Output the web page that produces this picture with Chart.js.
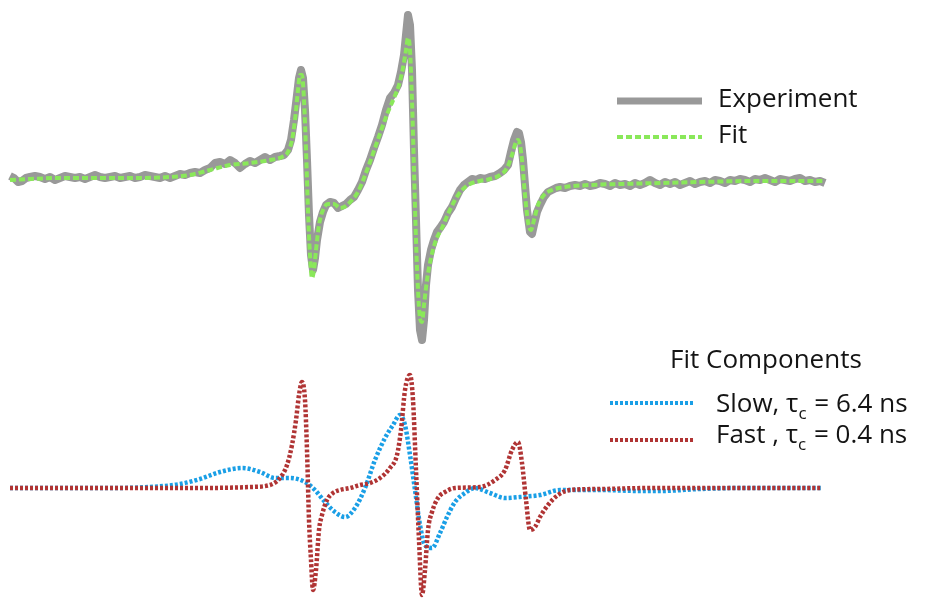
<!DOCTYPE html>
<html>
<head>
<meta charset="utf-8">
<script src="https://cdn.jsdelivr.net/npm/chart.js@4.4.1/dist/chart.umd.min.js"></script>
<style>
  body { margin: 0; background: #fff; }
  #spectrum { display: block; }
</style>
</head>
<body>
<canvas id="spectrum" width="926" height="601"></canvas>
<script>
// EPR spectrum, field in arbitrary units, signal relative to baseline
const expField = [10,14,18,22,26,30,35,40,45,50,55,60,65,70,75,80,85,90,95,100,105,110,115,120,125,130,135,140,145,150,155,160,165,170,175,180,185,190,195,200,205,210,215,220,225,230,235,240,245,250,255,260,265,270,275,280,284,288,291,294,297,299,301,303,305,307,309,311,313,315,317,320,323,326,330,334,338,342,346,350,354,358,362,366,370,374,378,382,386,390,394,398,401,404,406,408,410,412,414,416,418,420,422,424,426,428,431,434,437,440,444,448,452,456,460,464,468,472,476,480,485,490,495,500,504,508,511,514,517,519,521,523,525,527,530,532,534,537,540,544,548,552,556,560,565,570,575,580,585,590,595,600,605,610,615,620,625,630,635,640,645,650,655,660,665,670,675,680,685,690,695,700,705,710,715,720,725,730,735,740,745,750,755,760,765,770,775,780,785,790,795,800,805,810,815,820,825];
const expSignal = [4,2,-2,-1,2,3,4,3,1,3,0,2,4,3,2,3,1,3,5,3,2,3,4,2,3,4,2,3,5,4,3,2,4,2,4,6,5,7,8,7,10,12,17,18,16,20,17,12,16,19,17,20,23,20,23,24,25,30,40,60,85,102,110,102,70,20,-35,-75,-90,-78,-60,-42,-32,-25,-22,-23,-28,-26,-24,-20,-17,-10,-2,10,20,32,43,55,70,82,87,95,108,125,145,165,155,110,30,-40,-110,-150,-160,-140,-105,-85,-70,-60,-52,-48,-42,-33,-27,-18,-10,-5,-2,1,0,2,1,3,4,7,10,15,28,40,48,47,38,20,-5,-30,-52,-54,-45,-32,-25,-17,-12,-10,-8,-7,-8,-6,-5,-6,-4,-6,-5,-3,-4,-6,-3,-5,-4,-6,-3,-5,-3,0,-3,-5,-2,-4,-2,-5,-3,-1,-4,-2,-1,-3,0,-1,-3,0,-1,1,0,-2,1,0,2,0,-2,1,0,-1,1,2,-1,0,-2,-1,-3];

const fitField = [10,30,60,100,140,170,190,210,230,250,270,282,288,292,295,298,300,302,304,306,308,310,312,314,316,319,323,328,334,340,346,352,358,364,370,376,382,388,394,399,403,406,408,410,412,414,416,418,420,422,424,427,431,436,442,448,455,462,470,480,490,500,507,512,516,518,520,522,525,528,531,534,538,544,552,565,590,620,660,700,750,800,825];
const fitSignal = [0,1,2,2,2,3,5,10,15,17,20,23,28,40,60,90,105,105,80,30,-30,-75,-98,-90,-70,-45,-30,-24,-24,-28,-26,-20,-12,2,18,35,52,68,82,95,112,130,142,130,80,10,-60,-110,-138,-142,-125,-100,-78,-60,-48,-34,-20,-10,-4,-1,1,5,12,25,38,40,35,20,-15,-42,-50,-40,-25,-15,-10,-7,-5,-4,-3,-2,-1,-1,-1];

// fit components
const slowField = [10,100,150,180,200,220,243,260,275,290,305,315,325,335,345,355,365,375,385,393,400,405,410,415,420,425,432,440,447,455,465,475,490,505,520,540,560,600,640,660,700,740,822];
const slowSignal = [0,0,1,4,9,16,20,16,10,10,6,-2,-14,-24,-29,-20,0,28,50,63,73,63,33,-2,-37,-57,-60,-45,-29,-14,-5,0,-5,-10,-9,-7,-2,-2,-3,-3,-1,0,0];

const fastField = [10,100,200,250,270,280,287,292,296,299,302,305,307,309,311,313,316,319,322,327,333,340,350,360,370,380,390,397,401,405,410,413,416,419,422,425,428,432,438,445,455,480,495,505,512,518,522,526,530,535,540,548,558,570,600,650,822];
const fastSignal = [0,0,0,1,3,10,23,43,68,93,106,88,38,-32,-72,-102,-82,-42,-27,-12,-5,-2,0,3,5,10,20,33,58,98,113,88,18,-52,-107,-82,-42,-24,-10,-4,0,1,8,18,38,46,25,-12,-42,-39,-29,-17,-7,-2,-1,0,0];

const toPoints = (xs, ys) => xs.map((x, i) => ({ x: x, y: ys[i] }));

const legendFont = '26px "Open Sans", sans-serif';
const subFont = '17px "Open Sans", sans-serif';

// legend drawn by hand, the figure has no axes
const legendPlugin = {
    id: 'figureLegend',
    afterDatasetsDraw(chart) {
        const ctx = chart.ctx;
        ctx.save();
        ctx.lineCap = 'butt';

        const line = (x1, x2, y, color, width, dash) => {
            ctx.beginPath();
            ctx.strokeStyle = color;
            ctx.lineWidth = width;
            ctx.setLineDash(dash);
            ctx.moveTo(x1, y);
            ctx.lineTo(x2, y);
            ctx.stroke();
        };
        line(617, 702, 101, '#999999', 7, []);
        line(617, 702, 137, '#8ae85a', 4, [6, 3]);
        line(610, 695, 403, '#1a9fe6', 4, [3, 2]);
        line(610, 695, 440, '#b03434', 4, [3, 2]);
        ctx.setLineDash([]);

        ctx.fillStyle = '#141414';
        ctx.textBaseline = 'alphabetic';
        ctx.font = legendFont;
        ctx.fillText('Experiment', 718, 107);
        ctx.fillText('Fit', 718, 143);
        ctx.fillText('Fit Components', 670, 368);

        const tauLabel = (pre, post, y) => {
            ctx.font = legendFont;
            ctx.fillText(pre, 716, y);
            let x = 716 + ctx.measureText(pre).width;
            ctx.font = subFont;
            ctx.fillText('c', x, y + 7);
            x += ctx.measureText('c').width + 1;
            ctx.font = legendFont;
            ctx.fillText(post, x, y);
        };
        tauLabel('Slow, \u03c4', ' = 6.4 ns', 412);
        tauLabel('Fast , \u03c4', ' = 0.4 ns', 443);
        ctx.restore();
    }
};

new Chart(document.getElementById('spectrum').getContext('2d'), {
    type: 'line',
    data: {
        datasets: [
            {
                label: 'Fit',
                data: toPoints(fitField, fitSignal),
                borderColor: '#8ae85a',
                borderWidth: 4,
                borderDash: [6, 3],
                cubicInterpolationMode: 'monotone',
                pointRadius: 0,
                yAxisID: 'y',
                order: 0
            },
            {
                label: 'Experiment',
                data: toPoints(expField, expSignal),
                borderColor: '#999999',
                borderWidth: 8,
                borderJoinStyle: 'round',
                tension: 0,
                pointRadius: 0,
                yAxisID: 'y',
                order: 1
            },
            {
                label: 'Fast , τc = 0.4 ns',
                data: toPoints(fastField, fastSignal),
                borderColor: '#b03434',
                borderWidth: 4.5,
                borderDash: [3, 2],
                cubicInterpolationMode: 'monotone',
                pointRadius: 0,
                yAxisID: 'y2',
                order: 2
            },
            {
                label: 'Slow, τc = 6.4 ns',
                data: toPoints(slowField, slowSignal),
                borderColor: '#1a9fe6',
                borderWidth: 4.5,
                borderDash: [3, 2],
                cubicInterpolationMode: 'monotone',
                pointRadius: 0,
                yAxisID: 'y2',
                order: 3
            }
        ]
    },
    options: {
        responsive: false,
        devicePixelRatio: 1,
        animation: false,
        clip: false,
        layout: { padding: 0 },
        plugins: {
            legend: { display: false },
            tooltip: { enabled: false }
        },
        scales: {
            x: { type: 'linear', display: false, min: 0, max: 926 },
            y: { display: false, min: -421, max: 180 },
            y2: { display: false, min: -113, max: 488 }
        }
    },
    plugins: [legendPlugin]
});
</script>
</body>
</html>
